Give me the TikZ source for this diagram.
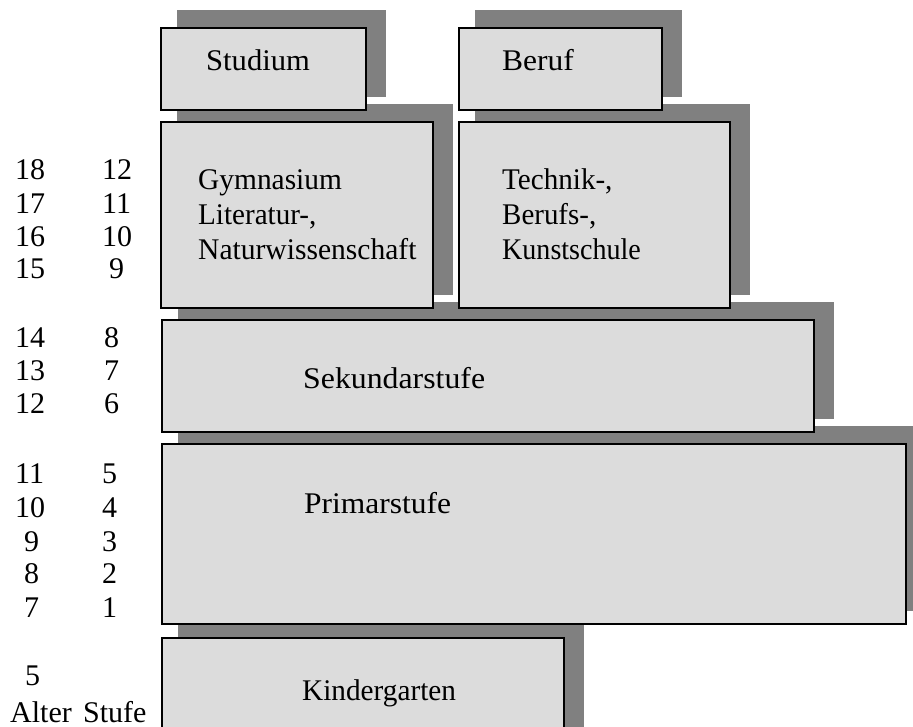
\documentclass[tikz,border=0pt]{standalone}
\usepackage{graphicx}
\usepackage{fontspec}
\setmainfont{Liberation Serif}
\usetikzlibrary{backgrounds}
\definecolor{boxfill}{RGB}{220,220,220}
\definecolor{shadowc}{RGB}{128,128,128}
\newcommand\hsc[2]{\scalebox{#1}[1]{#2}}
\begin{document}
\begin{tikzpicture}[x=1pt,y=-1pt,
  box/.style={draw=black, line width=2.2pt, fill=boxfill, rectangle,
    inner sep=0pt, outer sep=0pt, anchor=north west},
  lbl/.style={anchor=base west, inner sep=0pt, font=\fontsize{30}{36}\selectfont},
  shade/.style={fill=shadowc}]
\useasboundingbox (0,0) rectangle (913,726);
\clip (0,0) rectangle (913,726);

% boxes
\node[box, minimum width=205pt, minimum height=82pt]  (stud)  at (161,28)  {};
\node[box, minimum width=203pt, minimum height=82pt]  (beruf) at (459,28)  {};
\node[box, minimum width=272pt, minimum height=186pt] (gym)   at (161,122) {};
\node[box, minimum width=271pt, minimum height=186pt] (tech)  at (459,122) {};
\node[box, minimum width=652pt, minimum height=112pt] (sek)   at (162,320) {};
\node[box, minimum width=744pt, minimum height=180pt] (prim)  at (162,444) {};
\node[box, minimum width=402pt, minimum height=120pt] (kind)  at (162,638) {};

% shadows
\begin{scope}[on background layer]
  \clip (0,0) rectangle (913,726);
  \foreach \n in {stud,beruf,gym,tech,sek,prim,kind}
    \fill[shade] ([shift={(16,-18)}]\n.north west) rectangle ([shift={(20,-13)}]\n.south east);
\end{scope}

% box texts
\node[lbl] (tStud)  at (206,70)  {\hsc{1.02}{Studium}};
\node[lbl] (tBeruf) at (502,70)  {\hsc{1.05}{Beruf}};
\node[lbl] (tGym1)  at (198,189) {\hsc{0.98}{Gymnasium}};
\node[lbl] (tGym2)  at (198,224) {\hsc{0.97}{Literatur-,}};
\node[lbl] (tGym3)  at (198,259) {\hsc{0.985}{Naturwissenschaft}};
\node[lbl] (tTech1) at (502,189) {\hsc{0.97}{Technik-,}};
\node[lbl] (tTech2) at (502,224) {\hsc{0.965}{Berufs-,}};
\node[lbl] (tTech3) at (502,259) {\hsc{0.935}{Kunstschule}};
\node[lbl] (tSek)   at (303,388) {\hsc{1.06}{Sekundarstufe}};
\node[lbl] (tPrim)  at (304,513) {\hsc{1.05}{Primarstufe}};
\node[lbl] (tKind)  at (302,700) {\hsc{0.975}{Kindergarten}};

% age column
\node[lbl] (a18) at (15,179) {18};
\node[lbl] (a17) at (15,213) {17};
\node[lbl] (a16) at (15,246) {16};
\node[lbl] (a15) at (15,278) {15};
\node[lbl] (a14) at (15,347) {14};
\node[lbl] (a13) at (15,380) {13};
\node[lbl] (a12) at (15,413) {12};
\node[lbl] (a11) at (15,483) {11};
\node[lbl] (a10) at (15,517) {10};
\node[lbl] (a9)  at (24,551) {9};
\node[lbl] (a8)  at (24,583) {8};
\node[lbl] (a7)  at (24,617) {7};
\node[lbl] (a5)  at (25,685) {5};
\node[lbl] (alter) at (10,722) {Alter};

% stage column
\node[lbl] (s12) at (102,179) {12};
\node[lbl] (s11) at (102,213) {11};
\node[lbl] (s10) at (102,246) {10};
\node[lbl] (s9)  at (109,278) {9};
\node[lbl] (s8)  at (104,347) {8};
\node[lbl] (s7)  at (104,380) {7};
\node[lbl] (s6)  at (104,413) {6};
\node[lbl] (s5)  at (102,483) {5};
\node[lbl] (s4)  at (102,517) {4};
\node[lbl] (s3)  at (102,551) {3};
\node[lbl] (s2)  at (102,583) {2};
\node[lbl] (s1)  at (102,617) {1};
\node[lbl] (stufe) at (83,722) {Stufe};
\end{tikzpicture}
\end{document}
